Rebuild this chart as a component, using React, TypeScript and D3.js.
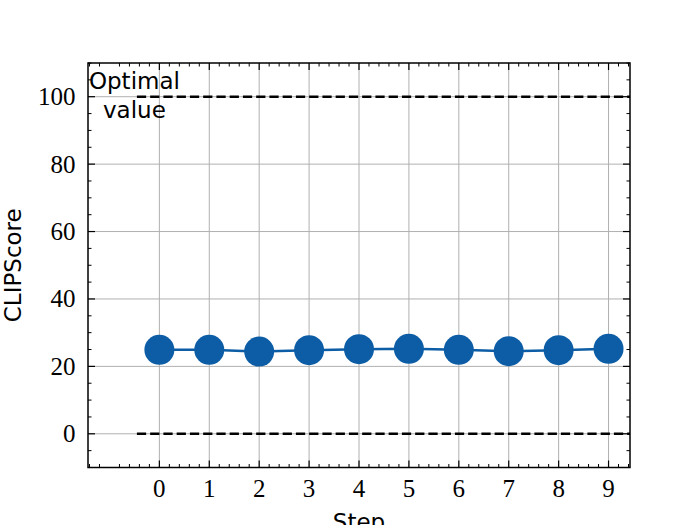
import React from "react";
import * as d3 from "d3";

const steps = [0, 1, 2, 3, 4, 5, 6, 7, 8, 9];
const clipScores = [24.9, 24.9, 24.4, 24.8, 25.1, 25.2, 24.9, 24.5, 24.8, 25.2];
const optimalValues = [100, 0];
const xTickValues = [0, 1, 2, 3, 4, 5, 6, 7, 8, 9];
const yTickValues = [0, 20, 40, 60, 80, 100];
const optimalLabel = ["Optimal", "value"];
const xLabel = "Step";
const yLabel = "CLIPScore";

const W = 700;
const H = 525;
const left = 88, right = 630, top = 63, bottom = 467.5;

export default function App() {
  const x = d3.scaleLinear().domain([-1.43, 9.43]).range([left, right]);
  const y = d3.scaleLinear().domain([-10, 110]).range([bottom, top]);
  const line = d3.line<number>().x((_, i) => x(steps[i])).y((d) => y(d));

  const xMinor = d3.range(-1.4, 9.43, 0.2).filter((v) => Math.abs(v - Math.round(v)) > 1e-6);
  const yMinor = d3.range(-10, 111, 5).filter((v) => v % 20 !== 0);
  const serif = "'Liberation Serif', 'DejaVu Serif', serif";
  const sans = "'DejaVu Sans', sans-serif";
  const maj = 7, mnr = 3.5;

  return (
    <svg width={W} height={H} style={{ position: "absolute", left: 0, top: 0 }}>
      <rect x={0} y={0} width={W} height={H} fill="white" />
      {/* grid */}
      {xTickValues.map((v) => (
        <line key={"gx" + v} x1={x(v)} x2={x(v)} y1={top} y2={bottom} stroke="#b0b0b0" strokeWidth={1} />
      ))}
      {yTickValues.map((v) => (
        <line key={"gy" + v} x1={left} x2={right} y1={y(v)} y2={y(v)} stroke="#b0b0b0" strokeWidth={1} />
      ))}
      {/* optimal lines */}
      {optimalValues.map((v) => (
        <line key={"o" + v} x1={x(-0.45)} x2={right} y1={y(v)} y2={y(v)} stroke="black" strokeWidth={2.5} strokeDasharray="9.25,4" />
      ))}
      {/* series */}
      <path d={line(clipScores) || ""} fill="none" stroke="#0C5DA5" strokeWidth={2.5} />
      {clipScores.map((v, i) => (
        <circle key={"p" + i} cx={x(steps[i])} cy={y(v)} r={15} fill="#0C5DA5" />
      ))}
      {/* optimal label */}
      <text x={x(-0.5)} y={y(100)} fontFamily={sans} fontSize={23} textAnchor="middle" fill="black">
        <tspan x={x(-0.5)} dy={-8}>{optimalLabel[0]}</tspan>
        <tspan x={x(-0.5)} dy={29}>{optimalLabel[1]}</tspan>
      </text>
      {/* ticks */}
      {xTickValues.map((v) => (
        <g key={"xt" + v}>
          <line x1={x(v)} x2={x(v)} y1={bottom} y2={bottom - maj} stroke="black" strokeWidth={1.2} />
          <line x1={x(v)} x2={x(v)} y1={top} y2={top + maj} stroke="black" strokeWidth={1.2} />
          <text x={x(v)} y={496.5} fontFamily={serif} fontSize={25} textAnchor="middle" fill="black">{v}</text>
        </g>
      ))}
      {xMinor.map((v, i) => (
        <g key={"xm" + i}>
          <line x1={x(v)} x2={x(v)} y1={bottom} y2={bottom - mnr} stroke="black" strokeWidth={1} />
          <line x1={x(v)} x2={x(v)} y1={top} y2={top + mnr} stroke="black" strokeWidth={1} />
        </g>
      ))}
      {yTickValues.map((v) => (
        <g key={"yt" + v}>
          <line x1={left} x2={left + maj} y1={y(v)} y2={y(v)} stroke="black" strokeWidth={1.2} />
          <line x1={right} x2={right - maj} y1={y(v)} y2={y(v)} stroke="black" strokeWidth={1.2} />
          <text x={75.5} y={y(v) + 8.5} fontFamily={serif} fontSize={25} textAnchor="end" fill="black">{v}</text>
        </g>
      ))}
      {yMinor.map((v, i) => (
        <g key={"ym" + i}>
          <line x1={left} x2={left + mnr} y1={y(v)} y2={y(v)} stroke="black" strokeWidth={1} />
          <line x1={right} x2={right - mnr} y1={y(v)} y2={y(v)} stroke="black" strokeWidth={1} />
        </g>
      ))}
      <rect x={left} y={top} width={right - left} height={bottom - top} fill="none" stroke="black" strokeWidth={1.5} />
      {/* axis labels */}
      <text x={(left + right) / 2} y={530} fontFamily={sans} fontSize={23} textAnchor="middle" fill="black">{xLabel}</text>
      <text transform={`translate(${21},${(top + bottom) / 2}) rotate(-90)`} fontFamily={sans} fontSize={23} textAnchor="middle" fill="black">{yLabel}</text>
    </svg>
  );
}
